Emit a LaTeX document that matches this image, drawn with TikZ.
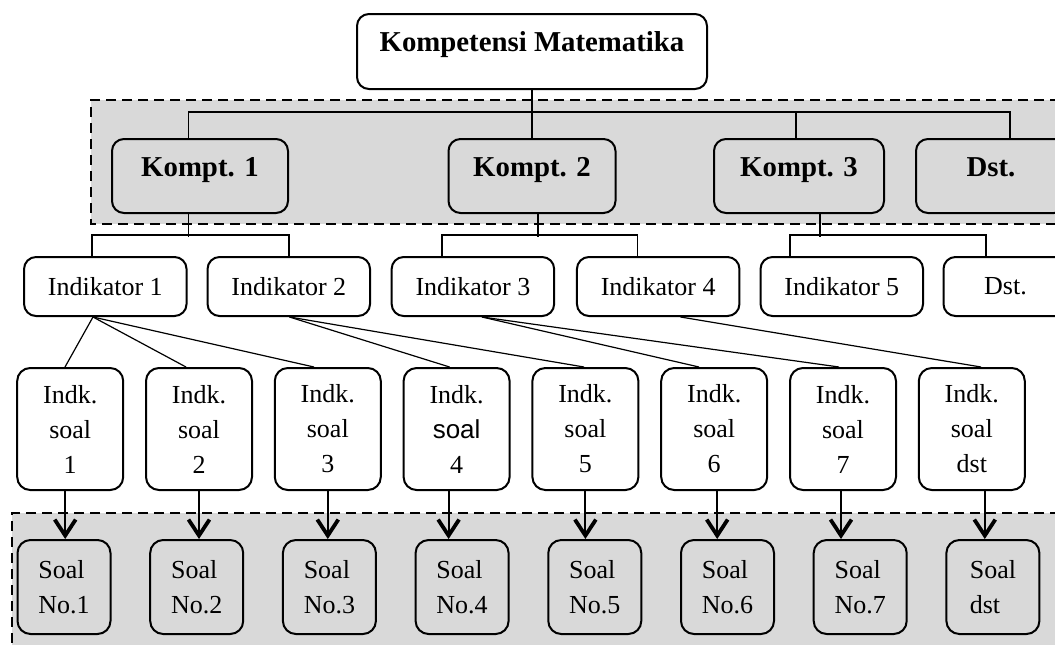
\documentclass[tikz,border=0pt]{standalone}
\usepackage{fontspec}
\setmainfont{Liberation Serif}
\newfontfamily\arialfont{Liberation Sans}
\usepackage{xcolor}
\usepackage{tikz}
\usetikzlibrary{arrows.meta}
\definecolor{panelgray}{HTML}{D9D9D9}
\newcommand{\sansword}[1]{{\arialfont #1}}

\begin{document}
\begin{tikzpicture}[
    x=0.5pt, y=-0.5pt,
    topbox/.style={draw, line width=1pt, rounded corners=6pt, fill=white,
                   font=\fontsize{14.4}{17}\selectfont\bfseries,
                   inner ysep=0pt, text height=18.75pt, text depth=18.75pt},
    kbox/.style={draw, line width=1pt, rounded corners=6pt, fill=panelgray,
                 font=\fontsize{14.4}{17}\selectfont\bfseries,
                 inner ysep=0pt, text height=18.5pt, text depth=18.5pt},
    indbox/.style={draw, line width=1pt, rounded corners=6pt, fill=white,
                   font=\fontsize{13}{17.5}\selectfont, inner sep=0pt,
                   minimum width=81.25pt, minimum height=29.5pt},
    isbox/.style={draw, line width=1pt, rounded corners=6.5pt, fill=white, align=center,
                  font=\fontsize{13}{17.5}\selectfont, inner sep=0pt,
                  minimum width=53pt, minimum height=61pt},
    soalbox/.style={draw, line width=1pt, rounded corners=6.5pt, fill=panelgray, align=left,
                    font=\fontsize{13}{17.5}\selectfont, inner sep=0pt,
                    minimum width=46.5pt, minimum height=47pt},
    panelborder/.style={line width=1pt, dash pattern=on 5pt off 3pt},
    link/.style={line width=0.7pt},
    diag/.style={line width=0.6pt},
    arrow/.style={line width=1pt, -{Straight Barb[length=8pt, width=10.5pt, line width=1.9pt]}}
]
\useasboundingbox (0,0) rectangle (1055,644);
\clip (0,0) rectangle (1055,644);

% ====================== PANELS ======================
\fill[panelgray] (91,100) rectangle (1060,224);
\draw[panelborder] (1060,100) -| (91,224) -- (1060,224);
\fill[panelgray] (12,513) rectangle (1060,650);
\draw[panelborder] (1060,513) -| (12,650);

% ====================== TOP & COMPETENCIES ======================
\node[topbox, minimum width=175pt] (kompetensi) at (532,51.5) {Kompetensi Matematika};

\node[kbox, minimum width=88pt]   (kompt1) at (200,176)   {Kompt. 1};
\node[kbox, minimum width=83.5pt] (kompt2) at (532,176)   {Kompt. 2};
\node[kbox, minimum width=85pt]   (kompt3) at (799,176)   {Kompt. 3};
\node[kbox, minimum width=75pt]   (kompt4) at (991,176)   {Dst.};

% ====================== INDICATORS ======================
\foreach \i/\x in {1/105.3, 2/288.8, 3/472.9, 4/658.2, 5/841.8}
    \node[indbox] (ind\i) at (\x,286.5) {Indikator \i};
\node[indbox, minimum width=62pt] (ind6) at (1005.5,286.5) {Dst.};

% ====================== QUESTION INDICATORS & QUESTIONS ======================
\foreach \i/\s/\n in {1/soal/1, 2/soal/2, 3/soal/3, 4/\sansword{soal}/4,
                      5/soal/5, 6/soal/6, 7/soal/7, 8/soal/dst}
    \node[isbox] (is\i) at ({70.2+128.8*(\i-1)},429) {Indk.\\\s\\\n};

\foreach \i/\t in {1/No.1, 2/No.2, 3/No.3, 4/No.4, 5/No.5, 6/No.6, 7/No.7, 8/dst}
    \node[soalbox] (soal\i) at ({64+132.7*(\i-1)},587) {Soal\\\t};

% ====================== CONNECTORS ======================
\draw[link] (kompetensi.south) -- (kompt2.north);
\draw[link] ([xshift=-5.7pt]kompt1.north) -- ++(0,-26) -| ([xshift=9.5pt]kompt4.north);
\draw[link] ([xshift=-1.5pt]kompt3.north) -- ++(0,-26);

\draw[link] ([xshift=-5.7pt]kompt1.south) -- ++(0,23);
\draw[link] ([xshift=-6.65pt]ind1.north) -- ++(0,-21) -| (ind2.north);
\draw[link] ([xshift=3pt]kompt2.south) -- ++(0,23);
\draw[link] ([xshift=-15.5pt]ind3.north) -- ++(0,-21) -| ([xshift=-10.3pt]ind4.north);
\draw[link] ([xshift=10.5pt]kompt3.south) -- ++(0,23);
\draw[link] ([xshift=-26pt]ind5.north) -- ++(0,-21) -| ([xshift=-9.75pt]ind6.north);

\foreach \a/\sa/\b/\sb in {ind1/-6.15/is1/-2.6, ind1/-6.15/is2/-6.5, ind1/-6.15/is3/-6.9,
                           ind2/0.35/is4/-3.5, ind2/0.35/is5/-0.7, ind3/4.55/is6/-7.6,
                           ind3/4.55/is7/-2, ind4/11.15/is8/4.6}
    \draw[diag] ([xshift=\sa pt]\a.south) -- ([xshift=\sb pt]\b.north);

% arrows into the questions
\foreach \i/\s in {1/-2.5, 2/0, 3/0, 4/-4, 5/0, 6/1.5, 7/-1, 8/6.5}
    \draw[arrow] ([xshift=\s pt]is\i.south) -- ([xshift=\s pt]is\i.south |- soal\i.north);

\end{tikzpicture}
\end{document}
